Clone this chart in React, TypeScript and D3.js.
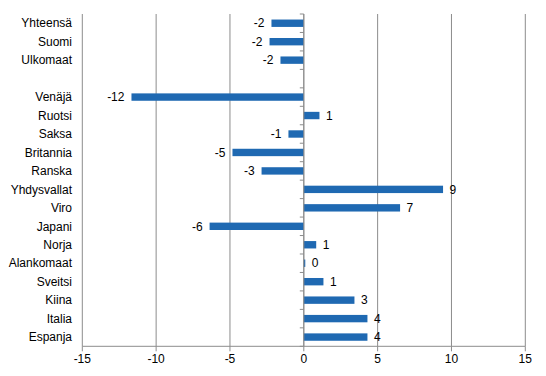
import React from "react";
import * as d3 from "d3";

const categories = ["Yhteensä","Suomi","Ulkomaat","","Venäjä","Ruotsi","Saksa","Britannia","Ranska","Yhdysvallat","Viro","Japani","Norja","Alankomaat","Sveitsi","Kiina","Italia","Espanja"];
const values: (number|null)[] = [-2.19,-2.32,-1.58,null,-11.67,1.06,-1.04,-4.83,-2.86,9.43,6.52,-6.38,0.84,0.1,1.33,3.43,4.31,4.31];
const xTicks = [-15,-10,-5,0,5,10,15];

const W = 546, H = 376;
const left = 82.3, right = 525.3, top = 14, bottom = 346.3;
const font = "'Liberation Sans', Arial, sans-serif";

export default function App() {
  const x = d3.scaleLinear().domain([-15, 15]).range([left, right]);
  const y = d3.scaleBand().domain(categories.map((c, i) => i + "")).range([top, bottom]).paddingInner(0.6).paddingOuter(0.3);
  const step = (bottom - top) / categories.length;
  const x0 = x(0);
  return (
    <svg width={W} height={H} style={{position:"absolute",left:0,top:0}} fontFamily={font}>
      {xTicks.map(t => (
        <line key={"g"+t} x1={x(t)} x2={x(t)} y1={top} y2={bottom} stroke="#8c8c8c" strokeWidth={1} />
      ))}
      <line x1={left} x2={right} y1={bottom} y2={bottom} stroke="#8c8c8c" />
      {xTicks.map(t => (
        <g key={"t"+t}>
          <line x1={x(t)} x2={x(t)} y1={bottom} y2={bottom+5} stroke="#8c8c8c" />
          <text x={x(t)} y={bottom+17} textAnchor="middle" fontSize={12} fill="#000">{t}</text>
        </g>
      ))}
      {d3.range(categories.length + 1).map(i => (
        <line key={"yt"+i} x1={x0-4} x2={x0} y1={top+i*step} y2={top+i*step} stroke="#8c8c8c" />
      ))}
      {categories.map((c, i) => {
        const v = values[i];
        const yc = (y(i+"") as number) + y.bandwidth()/2;
        return (
          <g key={"c"+i}>
            {c && <text x={72} y={yc} dy="0.35em" textAnchor="end" fontSize={12} fill="#000">{c}</text>}
            {v !== null && (
              <>
                <rect x={Math.min(x(v), x0)} y={y(i+"")} width={Math.max(Math.abs(x(v)-x0), 1)} height={y.bandwidth()} fill="#1f69b2" />
                <text x={v < 0 ? x(v)-7 : x(v)+6.5} y={yc} dy="0.35em" textAnchor={v < 0 ? "end" : "start"} fontSize={12} fill="#000">{Math.round(v)}</text>
              </>
            )}
          </g>
        );
      })}
      <line x1={x0} x2={x0} y1={top} y2={bottom} stroke="#8c8c8c" />
    </svg>
  );
}
